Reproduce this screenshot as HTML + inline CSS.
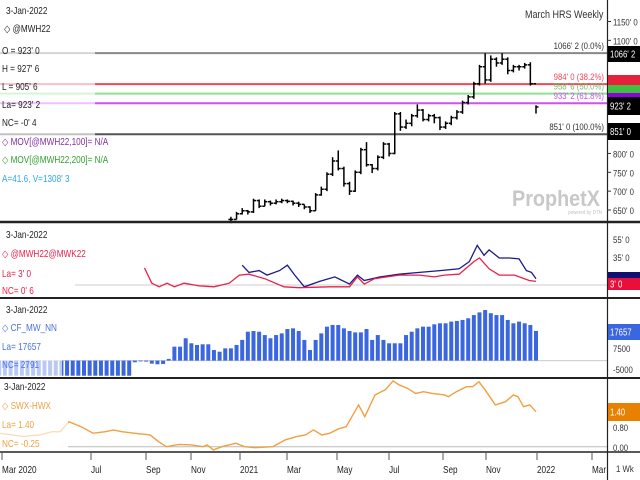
<!DOCTYPE html>
<html><head><meta charset="utf-8"><style>
html,body{margin:0;padding:0;background:#fff;}
svg{display:block;font-family:"Liberation Sans Narrow","Liberation Sans",sans-serif;}
</style></head><body>
<svg id="c" width="640" height="480" viewBox="0 0 640 480" xmlns="http://www.w3.org/2000/svg">
<rect x="0" y="0" width="640" height="480" fill="#fff"/>
<g id="marks"></g>
<g id="over"></g>
</svg>
<script>
// ---- data ----
const priceCloses=[625,640,648,645,675,660,672,668,672,675,673,668,665,658,648,690,705,745,780,760,720,700,750,810,770,760,790,825,800,905,870,880,900,915,890,900,895,870,880,895,910,935,950,985,1030,995,1050,1040,1050,1020,1030,1030,1035,985,923.25];
const priceHighs=[632,645,655,650,680,678,678,675,678,680,678,675,672,665,660,695,712,750,790,808,765,725,755,815,830,772,795,830,828,910,910,890,905,930,918,905,905,898,885,900,915,940,955,990,1035,1066,1060,1055,1066,1055,1035,1035,1040,1042,927.75];
const priceLows=[615,625,638,638,642,655,660,662,665,668,668,662,658,652,642,648,688,700,740,755,712,690,698,745,765,748,755,785,792,798,860,865,872,895,885,885,880,862,865,875,890,905,930,945,980,985,990,1030,1035,1010,1015,1020,1025,980,905.75];
const priceStartWeek=41;
const fibLevels=[1066.25,984,958.6,933.25,851];
const fibLabels=["1066' 2 (0.0%)","984' 0 (38.2%)","958' 6 (50.0%)","933' 2 (61.8%)","851' 0 (100.0%)"];
const fibColors=["#888","#f04858","#90e090","#d050f0","#555"];
const redWeeks=[25.7,27,28.3,29.7,31,32.7,35.4,38,40.7,42.5,44.2,47,50.4,53,58.4,62,63.4,64.6,66.4,70.8,74.4,77,78.8,81.4,84,85,86.7,88.5,91.2,93.8,95];
const redVals=[24,7,3,7,3,7,4,3,7,16,17,12,3,2,3,3,14,6,12,16,16,14,16,17,31,35,23,16,16,10,9];
const blueWeeks=[43,44.2,46,47.4,49.6,51,52.3,54,56.7,59.4,62,63.4,64.6,67.4,70.8,74.4,78,81.4,83.2,84.6,85.8,86.7,88.5,90.3,92,93.3,94.2,95];
const blueVals=[27,19,21,16,21,27,16,3,9,14,6,16,10,14,17,19,21,23,31,49,38,44,35,35,34,21,19,12];
const cotVals=[-9000,-9000,-9000,-9000,-9000,-9000,-9000,-9000,-9000,-9000,-9000,-9000,-9000,-9000,-9000,-9000,-9000,-9000,-9000,-9000,-9000,-9000,-9000,-9000,-1000,-300,-600,-1800,-2200,-2000,1000,
8300,8300,13300,10300,9300,9700,9700,6300,5300,7300,7300,9300,12300,17200,17600,17200,15200,13300,15200,16200,18800,19200,17600,12300,6300,12300,16200,20200,21200,21200,19200,17600,16800,16800,18800,12300,15200,12300,10300,10300,10300,15200,17200,19200,20200,20200,21600,22200,22200,23200,23600,24200,25200,27100,28700,30100,28200,27100,27100,24200,22200,23200,22200,21200,17657];
const orangeWeeks=[0,4.3,7.2,9.4,10.8,12.3,14.5,16.6,18.8,20.2,21.7,23.8,26.7,28.2,29.6,31.8,34,36.1,36.8,37.9,39.4,41.9,43.4,45.2,48.4,50.6,52.7,54.2,55.6,57.1,58.5,60,61.4,63.6,64.7,66.5,67.6,68.3,69.7,70.8,72.3,73.7,75.1,76.6,78.8,79.5,80.9,82.7,83.8,84.9,86,87.8,89.6,91,91.8,92.8,93.9,95];
const orangeVals=[0.54,0.41,0.47,0.6,0.6,1.0,0.8,0.54,0.6,0.67,0.6,0.54,0.47,0.2,0,0.09,0.07,0,0.07,-0.13,0,0.14,0,-0.04,0,0.27,0.41,0.47,0.67,0.47,0.54,0.71,0.8,1.67,1.2,2.07,2.2,2.27,2.63,2.47,2.33,2.13,2.2,2.13,2.07,2.0,2.2,2.4,2.4,2.6,2.27,1.67,1.8,2.07,2.0,1.6,1.67,1.4];
const xLabels=["Mar 2020","Jul","Sep","Nov","2021","Mar","May","Jul","Sep","Nov","2022","Mar"];
const xLabelPos=[2,91,146,191,240,287,337,389,443,486,537,592];
const priceTicks=["1150' 0","1100' 0","800' 0","750' 0","700' 0","650' 0"];
const priceTickVals=[1150,1100,800,750,700,650];

// ---- scales ----
const xW=w=>-0.75+w*5.65;
const yP=p=>210-(p-650)*0.377;
const yS=v=>258-(v-35)*0.9;
const yC=v=>360.6-v*0.00168;
const yO=v=>446.7-v*25;
const NS="http://www.w3.org/2000/svg";
const marks=document.getElementById('marks');
const over=document.getElementById('over');
function mk(tag,attrs,parent){const e=document.createElementNS(NS,tag);for(const k in attrs)e.setAttribute(k,attrs[k]);(parent||marks).appendChild(e);return e;}
function txt(x,y,s,fill,size,anchor,parent,sx){const k=sx||0.82;const e=mk('text',{x:x,y:y,fill:fill,'font-size':size,'text-anchor':anchor||'start',transform:'translate('+(x*(1-k))+',0) scale('+k+',1)'},parent||over);e.textContent=s;return e;}

// fib lines
fibLevels.forEach((v,i)=>{
  const l=mk('line',{x1:0,x2:607,y1:yP(v),y2:yP(v),stroke:fibColors[i],'stroke-width':2});
  
  
});
// price bars
priceCloses.forEach((c,i)=>{
  const x=xW(priceStartWeek+i);
  const o=i>0?priceCloses[i-1]:c;
  const g=mk('g',{stroke:'#000','stroke-width':1.5});
  
  
  mk('line',{x1:x,x2:x,y1:yP(priceHighs[i]),y2:yP(priceLows[i])},g);
  mk('line',{x1:x-2.5,x2:x,y1:yP(o),y2:yP(o)},g);
  mk('line',{x1:x,x2:x+2.5,y1:yP(c),y2:yP(c)},g);
});
// panel 2 lines
const zl2=mk('line',{x1:75,x2:607,y1:285,y2:285,stroke:'#ccc'});


const bl=mk('polyline',{points:blueWeeks.map((w,i)=>xW(w)+','+yS(blueVals[i])).join(' '),fill:'none',stroke:'#1a1a8a','stroke-width':1.3});


const rl=mk('polyline',{points:redWeeks.map((w,i)=>xW(w)+','+yS(redVals[i])).join(' '),fill:'none',stroke:'#e8204a','stroke-width':1.3});


// panel 3 bars
const zl3=mk('line',{x1:0,x2:607,y1:yC(0),y2:yC(0),stroke:'#ccc'});


cotVals.forEach((v,i)=>{
  const x=xW(i);const y0=yC(0),y1=yC(v);
  const r=mk('rect',{x:x-2,y:Math.min(y0,y1),width:4,height:Math.max(0.8,Math.abs(y1-y0)),fill:'#3a66e0'});
  
  
});
// panel 4
const zl4=mk('line',{x1:68,x2:607,y1:yO(0),y2:yO(0),stroke:'#bbb'});


const ol=mk('polyline',{points:orangeWeeks.map((w,i)=>xW(w)+','+yO(orangeVals[i])).join(' '),fill:'none',stroke:'#f0a040','stroke-width':1.4});



// legend fades
[[0,0,95,190],[0,228,75,68],[0,300,62,77],[0,380,68,70]].forEach(a=>{
  const r=mk('rect',{x:a[0],y:a[1],width:a[2],height:a[3],fill:'#fff','fill-opacity':0.65},over);
  
  
});

// panel frame lines
[[222,2.5],[298,2],[378,2],[452,1.5]].forEach(a=>{
  const l=mk('line',{x1:0,x2:640,y1:a[0],y2:a[0],stroke:'#222','stroke-width':a[1]},over);
  
  
});
const va=mk('line',{x1:607.5,x2:607.5,y1:0,y2:480,stroke:'#222','stroke-width':1.2},over);



// fib labels
fibLevels.forEach((v,i)=>{
  const t=txt(604,yP(v)-4,fibLabels[i],i==0||i==4?'#333':fibColors[i]==='#90e090'?'#70c070':fibColors[i],9.5,'end');
  
  
});
// price ticks
priceTickVals.forEach((v,i)=>{
  const t=txt(613,yP(v)+4,priceTicks[i],'#333',9.5);
  
  
  const k=mk('line',{x1:607,x2:611,y1:yP(v),y2:yP(v),stroke:'#333'},over);
  
  
});
// right boxes
function box(y,h,fill,label,color,name){
  const r=mk('rect',{x:608,y:y,width:32,height:h,fill:fill},over);
  
  
  if(label){const t=txt(610,y+h/2+3.5,label,color,10,'start',over,0.78);
  
  }
}
box(46,16,'#000',"1066' 2",'#fff','last-high-box');
box(75,10,'#e8203a','','','fib-382-box');
box(85,8,'#40c040','','','fib-50-box');
box(93,4,'#9000e0','','','fib-618-box');
box(97,18,'#000',"923' 2",'#fff','last-price-box');
box(123,17,'#000',"851' 0",'#fff','low-box');
box(272,6,'#101070','','','spread-blue-box');
box(278,12,'#e8103a',"3' 0",'#fff','spread-red-box');
box(324,16,'#3a66e0','17657','#fff','cot-last-box');
box(403,18,'#e88000','1.40','#fff','swx-last-box');
[["55' 0",243],["35' 0",261],["7500",352],["-5000",373],["0.80",431],["0.00",451]].forEach(a=>{
  const t=txt(613,a[1],a[0],'#333',9.5);
  
  
});

// title & watermark
let t=txt(525,18,'March HRS Weekly','#333',11);


t=txt(556,206,'ProphetX','#c8c8c8',22,'middle',over,0.9);t.setAttribute('font-weight','bold');


t=txt(585,214,'powered by DTN','#c0c0c0',5.5,'middle');



// legends
const leg=[
 [6,14,'3-Jan-2022','#222'],[4,32,'◇ @MWH22','#222'],[2,54,"O = 923' 0",'#222'],[2,72,"H = 927' 6",'#222'],[2,90,"L = 905' 6",'#222'],[2,108,"La= 923' 2",'#222'],[2,126,"NC= -0' 4",'#222'],
 [2,145,'◇ MOV[@MWH22,100]= N/A','#8030a0'],[2,163,'◇ MOV[@MWH22,200]= N/A','#30a030'],[2,182,"A=41.6, V=1308' 3",'#30a8e8'],
 [6,238,'3-Jan-2022','#222'],[2,257,'◇ @MWH22@MWK22','#e8204a'],[2,277,"La= 3' 0",'#e8204a'],[2,294,"NC= 0' 6",'#e8204a'],
 [6,313,'3-Jan-2022','#222'],[2,331,'◇ CF_MW_NN','#4a70e0'],[2,350,'La= 17657','#4a70e0'],[2,368,'NC= 2791','#4a70e0'],
 [4,390,'3-Jan-2022','#222'],[2,409,'◇ SWX-HWX','#f0a040'],[2,428,'La= 1.40','#f0a040'],[2,447,'NC= -0.25','#f0a040']
];
leg.forEach(a=>{
  const e=txt(a[0],a[1],a[2],a[3],10);
  
  
});
// x axis
xLabels.forEach((s,i)=>{
  const e=txt(xLabelPos[i],473,s,'#222',10);
  
  
  const k=mk('line',{x1:xLabelPos[i],x2:xLabelPos[i],y1:453,y2:460,stroke:'#555'},over);
  
  
});
t=txt(616,472,'1 Wk','#333',9.5);


</script>
</body></html>
